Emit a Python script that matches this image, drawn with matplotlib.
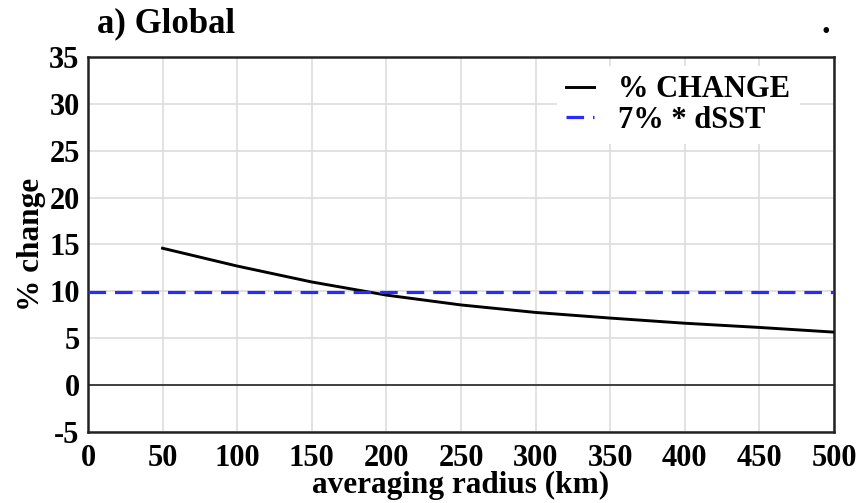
import matplotlib
matplotlib.use("Agg")
import matplotlib.pyplot as plt

radius = [50, 100, 150, 200, 250, 300, 350, 400, 450, 500]
pct_change = [14.6, 12.7, 11.0, 9.6, 8.55, 7.75, 7.15, 6.6, 6.15, 5.65]
dsst_ref = 9.9

x_ticks = list(range(0, 501, 50))
y_ticks = list(range(-5, 36, 5))

plt.rcParams["font.family"] = "Liberation Serif"
plt.rcParams["font.weight"] = "bold"
plt.rcParams["axes.unicode_minus"] = False

fig = plt.figure(figsize=(8.65, 5.03), dpi=100)
ax = fig.add_axes([0.1017, 0.1412, 0.8625, 0.7455])

ax.axhline(0, color="#333333", lw=1.3, zorder=2)
ax.plot(radius, pct_change, color="black", lw=2.1, label="% CHANGE", zorder=3)
ax.axhline(dsst_ref, color="#2a2aff", lw=2.3, dashes=(5.5, 2.8),
           label="7% * dSST", zorder=3)

ax.set_xlim(0, 500)
ax.set_ylim(-5, 35)
ax.set_xticks(x_ticks)
ax.set_yticks(y_ticks)
ax.grid(True, color="#dddddd", lw=1.2)
ax.set_axisbelow(True)
ax.tick_params(length=0, labelsize=22)
ax.tick_params(axis="x", pad=9)
ax.tick_params(axis="y", pad=6)
for s in ax.spines.values():
    s.set_linewidth(1.8)
    s.set_color("#222222")

ax.set_xlabel("averaging radius (km)", fontsize=22.5, fontweight="bold", labelpad=-2)
ax.set_ylabel("% change", fontsize=22.5, fontweight="bold", labelpad=2)

leg = ax.legend(loc="upper right", bbox_to_anchor=(0.966, 1.0), fontsize=22,
                frameon=True, framealpha=1, edgecolor="none",
                handlelength=0.9, handletextpad=0.8,
                labelspacing=0.05, borderaxespad=0.3, borderpad=0.3,
                fancybox=False)

fig.text(0.112, 0.935, "a) Global", fontsize=25, fontweight="bold")
fig.text(0.950, 0.935, ".", fontsize=25, fontweight="bold")

fig.savefig("out.png", dpi=100)
